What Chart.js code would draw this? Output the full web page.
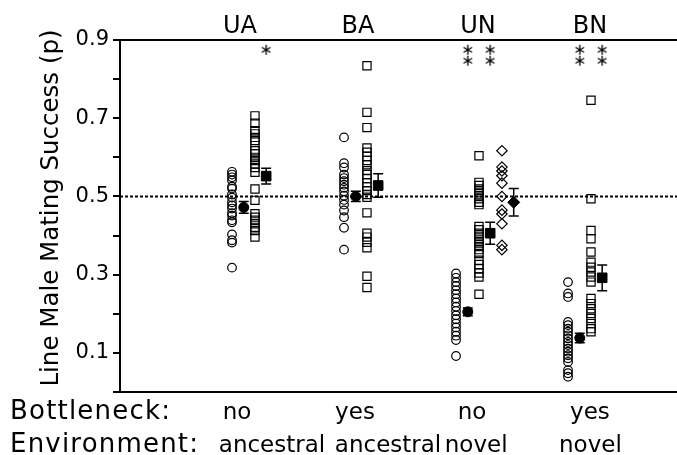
<!DOCTYPE html>
<html>
<head>
<meta charset="utf-8">
<script src="https://cdn.jsdelivr.net/npm/chart.js@4"></script>
<style>
  html, body { margin: 0; padding: 0; background: #fff; }
  #wrap { width: 677px; height: 455px; }
</style>
</head>
<body>
<div id="wrap"><canvas id="chart"></canvas></div>
<script>
// treatment groups and their descriptions
const groups = ['UA', 'BA', 'UN', 'BN'];
const bottleneck = ['no', 'yes', 'no', 'yes'];
const environment = ['ancestral', 'ancestral', 'novel', 'novel'];
const yTicks = [0.1, 0.3, 0.5, 0.7, 0.9];
const yTitle = 'Line Male Mating Success (p)';

// single lines, open circles
const uaCircles = [0.563, 0.556, 0.549, 0.541, 0.525, 0.520, 0.505, 0.497, 0.485, 0.477, 0.469, 0.457, 0.451, 0.439, 0.434, 0.403, 0.388, 0.382, 0.318];
const baCircles = [0.651, 0.585, 0.574, 0.556, 0.547, 0.539, 0.530, 0.522, 0.513, 0.502, 0.491, 0.479, 0.464, 0.447, 0.420, 0.364];
const unCircles = [0.303, 0.292, 0.281, 0.271, 0.260, 0.250, 0.239, 0.229, 0.218, 0.207, 0.196, 0.186, 0.175, 0.165, 0.154, 0.144, 0.133, 0.092];
const bnCircles = [0.281, 0.252, 0.243, 0.179, 0.171, 0.162, 0.154, 0.145, 0.137, 0.128, 0.120, 0.111, 0.103, 0.094, 0.086, 0.077, 0.056, 0.048, 0.039];

// single lines, open squares
const uaSquares = [0.706, 0.687, 0.668, 0.660, 0.651, 0.643, 0.630, 0.617, 0.609, 0.600, 0.592, 0.583, 0.574, 0.562, 0.519, 0.490, 0.456, 0.447, 0.439, 0.430, 0.421, 0.413, 0.396];
const baSquares = [0.834, 0.715, 0.676, 0.624, 0.613, 0.602, 0.592, 0.581, 0.566, 0.556, 0.546, 0.535, 0.525, 0.515, 0.505, 0.498, 0.458, 0.406, 0.396, 0.383, 0.369, 0.296, 0.267];
const unSquares = [0.604, 0.536, 0.528, 0.519, 0.511, 0.502, 0.494, 0.485, 0.479, 0.423, 0.415, 0.406, 0.398, 0.389, 0.381, 0.372, 0.364, 0.354, 0.337, 0.326, 0.315, 0.304, 0.294, 0.250];
const bnSquares = [0.746, 0.494, 0.413, 0.392, 0.358, 0.332, 0.319, 0.307, 0.294, 0.281, 0.239, 0.226, 0.213, 0.201, 0.188, 0.175, 0.162, 0.154];

// single lines, open diamonds (UN only)
const unDiamonds = [0.617, 0.575, 0.565, 0.553, 0.534, 0.500, 0.465, 0.455, 0.430, 0.375, 0.364];

// means +- SE
const circleMeans = [0.472, 0.500, 0.205, 0.138];
const circleSE = [0.015, 0.013, 0.010, 0.012];
const squareMeans = [0.552, 0.528, 0.406, 0.292];
const squareSE = [0.020, 0.030, 0.028, 0.033];
const diamondMeans = [null, null, 0.485, null];
const diamondSE = [null, null, 0.035, null];

// number of asterisks above each mean
const circleStars = [0, 0, 2, 2];
const squareStars = [1, 0, 2, 2];

// ---- layout (axis units: one group = 1) ----
const X_MAX = 4.973;
const OFF = { circle: 0, circleMean: 0.105, square: 0.205, squareMean: 0.305, diamond: 0.41, diamondMean: 0.515 };
const STAR_ROWS = [0.875, 0.847];
const TOP_POS = [1.071, 2.125, 3.196, 4.196];
const BOTTLE_POS = [1.045, 2.098, 3.143, 4.196];
const ENV_POS = [1.357, 2.393, 3.18, 4.2];
const FONT = '"DejaVu Sans", sans-serif';

function pts(values, g, off) {
    return values.map(v => ({ x: g + 1 + off, y: v }));
}
function meanPts(means, off) {
    return means.map((v, i) => v == null ? null : ({ x: i + 1 + off, y: v })).filter(p => p);
}
function errs(means, se) {
    return se.filter((e, i) => means[i] != null);
}
function starPts(counts, off) {
    const out = [];
    counts.forEach((n, i) => {
        for (let k = 0; k < n; k++) out.push({ x: i + 1 + off, y: STAR_ROWS[k] });
    });
    return out;
}

// little six-armed asterisk used as point style
function makeStar(size) {
    const c = document.createElement('canvas');
    c.width = c.height = size;
    const g = c.getContext('2d');
    g.strokeStyle = '#000';
    g.lineWidth = 1.3;
    const cx = size / 2, r = size / 2 - 1;
    g.beginPath();
    for (let k = 0; k < 3; k++) {
        const a = Math.PI / 2 + k * Math.PI / 3;
        g.moveTo(cx + Math.cos(a) * r, cx + Math.sin(a) * r);
        g.lineTo(cx - Math.cos(a) * r, cx - Math.sin(a) * r);
    }
    g.stroke();
    return c;
}

const open = { borderColor: '#000', backgroundColor: 'rgba(0,0,0,0)', borderWidth: 1.2, showLine: false };
const filled = { borderColor: '#000', backgroundColor: '#000', borderWidth: 1, showLine: false };

const errorBars = {
    id: 'errorBars',
    afterDatasetsDraw(chart) {
        const ctx = chart.ctx, x = chart.scales.x, y = chart.scales.y;
        chart.data.datasets.forEach(ds => {
            if (!ds.errors) return;
            ctx.save();
            ctx.strokeStyle = '#000';
            ctx.lineWidth = 1.5;
            ds.data.forEach((p, i) => {
                const px = x.getPixelForValue(p.x);
                const top = y.getPixelForValue(p.y + ds.errors[i]);
                const bot = y.getPixelForValue(p.y - ds.errors[i]);
                ctx.beginPath();
                ctx.moveTo(px, top); ctx.lineTo(px, bot);
                ctx.moveTo(px - 5, top); ctx.lineTo(px + 5, top);
                ctx.moveTo(px - 5, bot); ctx.lineTo(px + 5, bot);
                ctx.stroke();
            });
            ctx.restore();
        });
    }
};

// group names on top, treatment rows below, y title on the left
const groupLabels = {
    id: 'groupLabels',
    afterDraw(chart) {
        const ctx = chart.ctx, x = chart.scales.x;
        ctx.save();
        ctx.fillStyle = '#000';
        ctx.textAlign = 'center';
        ctx.textBaseline = 'alphabetic';
        ctx.font = '24px ' + FONT;
        groups.forEach((t, i) => ctx.fillText(t, x.getPixelForValue(TOP_POS[i]), 33));
        ctx.font = '23px ' + FONT;
        bottleneck.forEach((t, i) => ctx.fillText(t, x.getPixelForValue(BOTTLE_POS[i]), 419));
        environment.forEach((t, i) => ctx.fillText(t, x.getPixelForValue(ENV_POS[i]), 452));

        ctx.save();
        ctx.translate(52, 208);
        ctx.rotate(-Math.PI / 2);
        ctx.textBaseline = 'middle';
        ctx.font = '24.5px ' + FONT;
        ctx.fillText(yTitle, 0, 0);
        ctx.restore();

        ctx.textAlign = 'left';
        ctx.font = '26px ' + FONT;
        ctx.letterSpacing = '1.2px';
        ctx.fillText('Bottleneck:', 10, 419);
        ctx.fillText('Environment:', 10, 452);
        ctx.restore();
    }
};

new Chart(document.getElementById('chart'), {
    type: 'scatter',
    data: {
        datasets: [
            { // reference line at p = 0.5
                data: [{ x: 0, y: 0.5 }, { x: X_MAX, y: 0.5 }],
                showLine: true, pointRadius: 0, borderColor: '#000', borderWidth: 2,
                borderDash: [3, 2], order: 10
            },
            { ...open, pointStyle: 'circle', pointRadius: 4.3,
              data: [].concat(pts(uaCircles, 0, OFF.circle), pts(baCircles, 1, OFF.circle), pts(unCircles, 2, OFF.circle), pts(bnCircles, 3, OFF.circle)) },
            { ...open, pointStyle: 'rect', pointRadius: 5.8,
              data: [].concat(pts(uaSquares, 0, OFF.square), pts(baSquares, 1, OFF.square), pts(unSquares, 2, OFF.square), pts(bnSquares, 3, OFF.square)) },
            { ...open, pointStyle: 'rectRot', pointRadius: 5.2,
              data: pts(unDiamonds, 2, OFF.diamond) },
            { ...filled, pointStyle: 'circle', pointRadius: 5,
              data: meanPts(circleMeans, OFF.circleMean), errors: errs(circleMeans, circleSE) },
            { ...filled, pointStyle: 'rect', pointRadius: 6.8,
              data: meanPts(squareMeans, OFF.squareMean), errors: errs(squareMeans, squareSE) },
            { ...filled, pointStyle: 'rectRot', pointRadius: 6,
              data: meanPts(diamondMeans, OFF.diamondMean), errors: errs(diamondMeans, diamondSE) },
            { pointStyle: makeStar(12), pointRadius: 6, showLine: false,
              data: [].concat(starPts(circleStars, OFF.circleMean), starPts(squareStars, OFF.squareMean)) }
        ]
    },
    options: {
        responsive: true,
        maintainAspectRatio: false,
        animation: false,
        layout: { padding: 0, autoPadding: false },
        plugins: { legend: { display: false }, tooltip: { enabled: false } },
        scales: {
            x: {
                type: 'linear', position: 'bottom', min: 0, max: X_MAX,
                ticks: { display: false }, grid: { display: false },
                border: { color: '#000', width: 2 },
                afterFit: s => { s.height = 63; }
            },
            xTop: {
                type: 'linear', position: 'top', min: 0, max: X_MAX,
                ticks: { display: false }, grid: { display: false },
                border: { color: '#000', width: 2 },
                afterFit: s => { s.height = 40; }
            },
            y: {
                min: 0, max: 0.9,
                ticks: {
                    stepSize: 0.1, autoSkip: false, color: '#000', padding: 4,
                    font: { family: FONT, size: 21 },
                    callback: v => yTicks.some(t => Math.abs(t - v) < 1e-6) ? v.toFixed(1) : ''
                },
                grid: { drawOnChartArea: false, color: '#000', lineWidth: 2, tickLength: 7 },
                border: { color: '#000', width: 2 },
                afterFit: s => { s.width = 120; }
            }
        }
    },
    plugins: [errorBars, groupLabels]
});
</script>
</body>
</html>
